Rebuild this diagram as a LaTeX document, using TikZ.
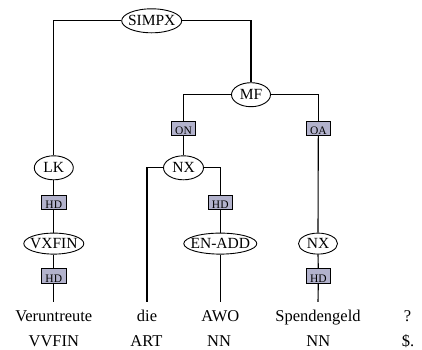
\documentclass[tikz,border=0pt]{standalone}
\usepackage{fontspec}
\setmainfont{Liberation Serif}
\usetikzlibrary{shapes.geometric}
\definecolor{edgefill}{RGB}{178,178,204}
\tikzset{
  cat/.style={draw, ellipse, inner sep=0pt, line width=0.9pt,
    font=\fontsize{15.5}{17}\selectfont},
  fn/.style={draw, fill=edgefill, inner sep=0pt, line width=0.9pt,
    minimum width=24.5pt, minimum height=14.5pt,
    text height=12.8pt, text depth=0pt,
    font=\fontsize{11.5}{12}\selectfont},
  word/.style={anchor=base, inner xsep=0pt, inner ysep=7.5pt,
    text height=12pt, text depth=3.5pt,
    font=\fontsize{16.5}{18}\selectfont},
  tag/.style={anchor=base, inner sep=0pt,
    font=\fontsize{16.5}{18}\selectfont},
  branch/.style={draw, line width=1.1pt}
}
\newcommand{\lab}[1]{\makebox[0pt][c]{#1}}
\begin{document}
\begin{tikzpicture}[x=1pt, y=-1pt]
\useasboundingbox (0,0) rectangle (422,349);

% phrase nodes
\node[cat, minimum width=60pt, minimum height=24pt] (simpx) at (151.7,20.8) {\lab{SIMPX}};
\node[cat, minimum width=39pt, minimum height=24pt] (mf)    at (251,94.7)   {\lab{MF}};
\node[cat, minimum width=39pt, minimum height=24pt] (lk)    at (53.8,167.8) {\lab{LK}};
\node[cat, minimum width=40pt, minimum height=24pt] (nxa)   at (183.5,167.8) {\lab{NX}};
\node[cat, minimum width=60pt, minimum height=21pt] (vxfin) at (53.8,243.6) {\lab{VXFIN}};
\node[cat, minimum width=73pt, minimum height=21pt] (enadd) at (220.3,243.6) {\lab{EN-ADD}};
\node[cat, minimum width=39pt, minimum height=21pt] (nxb)   at (318,243.6)  {\lab{NX}};

% edge labels
\node[fn] (on)  at (183.5,128.5) {ON};
\node[fn] (oa)  at (318.3,128.5) {OA};
\node[fn] (hda) at (53.8,202.2)  {HD};
\node[fn] (hdb) at (220.3,202.2) {HD};
\node[fn] (hdc) at (53.8,275.8)  {HD};
\node[fn] (hdd) at (318.3,275.8) {HD};

% tokens
\node[word] (w1) at (53.8,321.5)  {Veruntreute};
\node[word] (w2) at (147,321.5)   {die};
\node[word] (w3) at (220.3,321.5) {AWO};
\node[word] (w4) at (318,321.5)   {Spendengeld};
\node[word] (w5) at (407.5,321.5) {?};

% part-of-speech tags
\node[tag] (t1) at (53.8,346)  {VVFIN};
\node[tag] (t2) at (146.5,346) {ART};
\node[tag] (t3) at (219,346)   {NN};
\node[tag] (t4) at (318.3,346) {NN};
\node[tag] (t5) at (408,346)   {\$.};

% branches
\path[branch] (simpx.west) -| (lk.north);
\path[branch] (simpx.east) -| (mf.north);
\path[branch] (mf.west) -| (on.north);
\path[branch] (mf.east) -| (oa.north);
\path[branch] (on.south) -- (nxa.north);
\path[branch] (oa.south) -- (nxb.north);
\path[branch] (lk.south) -- (hda.north);
\path[branch] (hda.south) -- (vxfin.north);
\path[branch] (vxfin.south) -- (hdc.north);
\path[branch] (hdc.south) -- (w1.north);
\path[branch] (nxa.west) -| (w2.north);
\path[branch] (nxa.east) -| (hdb.north);
\path[branch] (hdb.south) -- (enadd.north);
\path[branch] (enadd.south) -- (w3.north);
\path[branch] (nxb.south) -- (hdd.north);
\path[branch] (hdd.south) -- (w4.north);
\end{tikzpicture}
\end{document}
